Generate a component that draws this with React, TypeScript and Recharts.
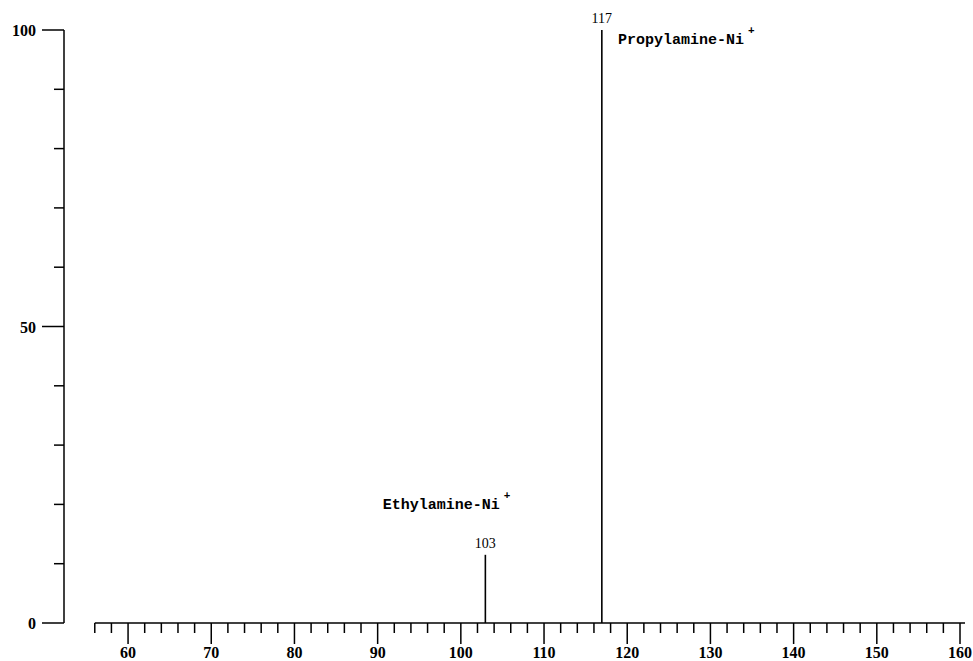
import React from "react";
import {
  ComposedChart,
  Bar,
  XAxis,
  YAxis,
  ReferenceLine,
  ReferenceDot,
  LabelList,
} from "recharts";

// m/z peaks and relative intensity (%)
const peakMz = [103, 117];
const peakIntensity = [11.5, 100];

const xTicks = [
  56, 58, 60, 62, 64, 66, 68, 70, 72, 74, 76, 78, 80, 82, 84, 86, 88, 90, 92,
  94, 96, 98, 100, 102, 104, 106, 108, 110, 112, 114, 116, 118, 120, 122, 124,
  126, 128, 130, 132, 134, 136, 138, 140, 142, 144, 146, 148, 150, 152, 154,
  156, 158, 160,
];
const yTicks = [0, 10, 20, 30, 40, 50, 60, 70, 80, 90, 100];
const yLabels = [0, 50, 100];

const annotations = [
  { name: "Propylamine-Ni", mz: 118.9, at: 97.6 },
  { name: "Ethylamine-Ni", mz: 90.6, at: 19.3 },
];

const data = peakMz.map((mz, i) => ({ mz, intensity: peakIntensity[i] }));

const SERIF = "'Liberation Serif', 'DejaVu Serif', serif";
const MONO = "'Liberation Mono', 'DejaVu Sans Mono', monospace";

function XTick(props: any) {
  const { x, y, payload } = props;
  const v = payload.value;
  const major = v % 10 === 0;
  return (
    <g>
      <line x1={x} x2={x} y1={y} y2={y + (major ? 21 : 10)} stroke="#000" strokeWidth={1.5} />
      {major && (
        <text x={x} y={y + 35} textAnchor="middle" fontFamily={SERIF} fontWeight="bold" fontSize={16} fill="#000">
          {v}
        </text>
      )}
    </g>
  );
}

function YTick(props: any) {
  const { x, y, payload } = props;
  const v = payload.value;
  const major = yLabels.includes(v);
  return (
    <g>
      <line x1={x} x2={x - (major ? 22 : 10)} y1={y} y2={y} stroke="#000" strokeWidth={1.5} />
      {major && (
        <text x={x - 28} y={y + 6} textAnchor="end" fontFamily={SERIF} fontWeight="bold" fontSize={16} fill="#000">
          {v}
        </text>
      )}
    </g>
  );
}

function PeakLabel(props: any) {
  const { x, y, width, value } = props;
  return (
    <text x={x + width / 2} y={y - 7} textAnchor="middle" fontFamily={SERIF} fontSize={14} fill="#000">
      {value}
    </text>
  );
}

function NameShape(name: string) {
  return (props: any) => (
    <text x={props.cx} y={props.cy} fontFamily={MONO} fontWeight="bold" fontSize={15} fill="#000">
      {name}
      <tspan dx={4} dy={-10} fontSize={11}>+</tspan>
    </text>
  );
}

export default function App() {
  return (
    <div style={{ position: "absolute", left: 0, top: 0, background: "#fff" }}>
      <ComposedChart
        width={973}
        height={661}
        data={data}
        margin={{ top: 30, right: 8, bottom: 0, left: 0 }}
      >
        <XAxis
          type="number"
          dataKey="mz"
          domain={[52.3, 160.6]}
          ticks={xTicks}
          interval={0}
          allowDataOverflow
          axisLine={false}
          tickLine={false}
          tickSize={0}
          tickMargin={0}
          tick={<XTick />}
          height={38}
        />
        <YAxis
          type="number"
          domain={[0, 100]}
          ticks={yTicks}
          interval={0}
          width={64}
          axisLine={{ stroke: "#000", strokeWidth: 1.5 }}
          tickLine={false}
          tickSize={0}
          tickMargin={0}
          tick={<YTick />}
        />
        <ReferenceLine
          segment={[
            { x: 56, y: 0 },
            { x: 160.6, y: 0 },
          ]}
          stroke="#000"
          strokeWidth={1.5}
          ifOverflow="visible"
        />
        <Bar dataKey="intensity" barSize={1.6} fill="#000" isAnimationActive={false}>
          <LabelList dataKey="mz" content={<PeakLabel />} />
        </Bar>
        {annotations.map((a) => (
          <ReferenceDot
            key={a.name}
            x={a.mz}
            y={a.at}
            r={0}
            ifOverflow="visible"
            shape={NameShape(a.name)}
          />
        ))}
      </ComposedChart>
    </div>
  );
}
